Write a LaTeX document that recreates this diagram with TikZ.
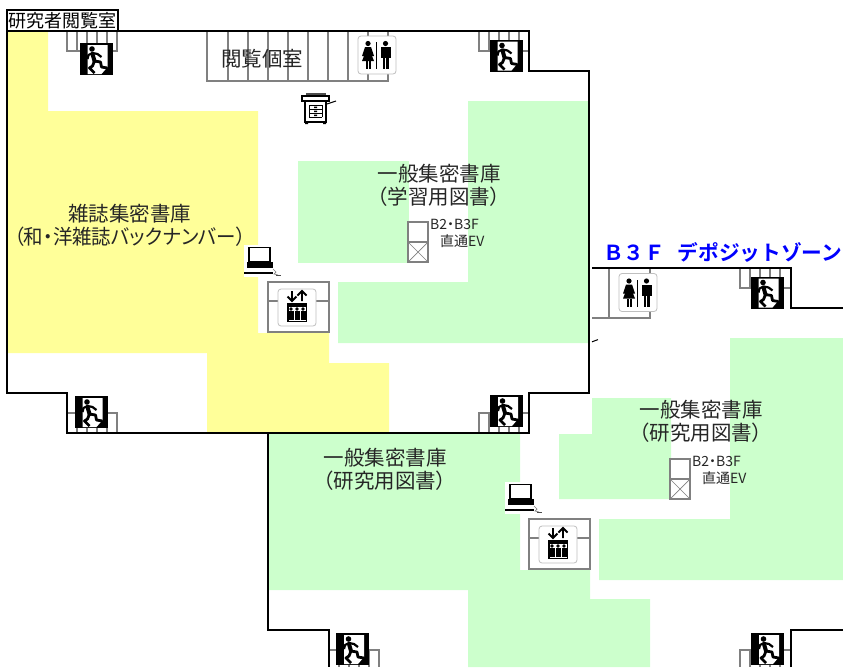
\documentclass[tikz,border=0pt]{standalone}
\usepackage{fontspec}
\setmainfont{Noto Sans CJK JP}
\newfontfamily\jp[RawFeature=+palt]{Noto Sans CJK JP}
\newfontfamily\jpb{Noto Sans CJK JP Bold}
\definecolor{yel}{HTML}{FFFF99}
\definecolor{grn}{HTML}{CCFFCC}
\definecolor{gry}{HTML}{808080}
\tikzset{
  x=1pt,y=-1pt,
  wall/.style={draw=black,line width=2.4pt,line join=miter},
  part/.style={draw=gry,line width=2pt},
  big/.style={font=\jp\fontsize{20.5}{24}\selectfont,align=center,inner sep=0pt,text=black!85},
  small/.style={font=\jp\fontsize{14}{16}\selectfont,inner sep=0pt,anchor=west,text=black!85},
  exitsign/.pic={
    \fill[black] (0,0) rectangle (33,32);
    \fill[white] (8,2) -- (28,2) -- (28,24) -- (22,31) -- (8,31) -- cycle;
    \fill[black] (12.5,6) circle (2.8);
    \draw[black,line width=4pt,line cap=round] (13,11) -- (15,18);
    \draw[black,line width=2.2pt,line join=round] (13,10) -- (18,11) -- (22,14);
    \draw[black,line width=2.2pt,line join=round] (13,10) -- (9,12) -- (8,16);
    \draw[black,line width=2.8pt,line join=round] (15,18) -- (21,19) -- (22,24) -- (28,25);
    \draw[black,line width=2.8pt,line join=round] (15,18) -- (13,23) -- (10,25) -- (15,30);
  },
  wcsign/.pic={
    \draw[draw=black!25,fill=white,line width=.8pt,rounded corners=3pt] (0,0) rectangle (38,38);
    \fill[black] (10,7.5) circle (2.6);
    \fill[black] (7,11) -- (13,11) -- (16,20) -- (14,20) -- (16,25) -- (4,25) -- (6,20) -- (4,20) -- cycle;
    \fill[black] (7.5,25) rectangle (9.5,33);
    \fill[black] (10.5,25) rectangle (12.5,33);
    \fill[black] (18,6) rectangle (19.4,33);
    \fill[black] (27.5,7.5) circle (2.6);
    \fill[black] (22.5,11) rectangle (33,22);
    \fill[black] (24.5,22) rectangle (27.2,33);
    \fill[black] (27.8,22) rectangle (31,33);
  },
  liftsign/.pic={
    \draw[draw=black!25,fill=white,line width=.8pt,rounded corners=3pt] (0,0) rectangle (38,37);
    \draw[black,line width=1.8pt] (14,2) -- (14,12) (9.5,7.5) -- (14,12) -- (18.5,7.5);
    \draw[black,line width=1.8pt] (24,12) -- (24,2) (19.5,6.5) -- (24,2) -- (28.5,6.5);
    \fill[black] (9,14) rectangle (29,33);
    \fill[white] (10.5,18) rectangle (27.5,31.5);
    \foreach \px in {13,19,25}{
      \fill[black] (\px,20) circle (1.8);
      \fill[black] (\px-2.5,22) rectangle (\px+2.5,30.5);
    }
  },
  pcsign/.pic={
    \fill[white] (0,0) rectangle (36,32);
    \draw[black,line width=1.6pt,fill=white] (5,2.5) rectangle (26,17);
    \fill[black] (3,17) rectangle (29,23);
    \draw[black,line width=1.2pt] (0,28) -- (29,28);
    \draw[black!50,line width=.7pt] (29,24) -- (32,27) -- (30,29) -- (34,30);
    \fill[black!70] (32,29.5) rectangle (37,31);
  },
  copiersign/.pic={
    \fill[black!70] (4,0) rectangle (24,3);
    \draw[black,line width=1.4pt,fill=white] (0,3) -- (27,3) -- (27,8) -- (0,8) -- cycle;
    \draw[black,line width=1.6pt,fill=white] (3,8) rectangle (24,29);
    \draw[black,line width=1pt] (7,12) -- (20,12) (7,16) -- (20,16) (7,20) -- (20,20) (7,24) -- (20,24);
    \draw[black,line width=1pt] (7,12) -- (7,24) (20,12) -- (20,24);
    \fill[black] (12,13.5) rectangle (15,15) (12,17.5) rectangle (15,19) (12,21.5) rectangle (15,23);
    \fill[black] (3,29) rectangle (6,31) (21,29) rectangle (24,31);
    \draw[black,line width=1pt] (25,11) -- (34,8);
  },
}
\begin{document}
\begin{tikzpicture}
\useasboundingbox (0,0) rectangle (843,667);
\clip (0,0) rectangle (843,667);
% floor areas
\fill[yel] (8,31) -- (48,31) -- (48,111) -- (258,111) -- (258,333) -- (329,333) -- (329,363) -- (389,363) -- (389,433) -- (207,433) -- (207,353) -- (8,353) -- cycle;
\fill[grn] (298,161) rectangle (409,263);
\fill[grn] (468,101) -- (589,101) -- (589,343) -- (338,343) -- (338,282) -- (468,282) -- cycle;
\fill[grn] (592,398) -- (671,398) -- (671,499) -- (559,499) -- (559,434) -- (592,434) -- cycle;
\fill[grn] (730,338) -- (843,338) -- (843,580) -- (599,580) -- (599,519) -- (730,519) -- cycle;
\fill[grn] (268,433) -- (520,433) -- (520,570) -- (590,570) -- (590,599) -- (650,599) -- (650,667) -- (468,667) -- (468,590) -- (268,590) -- cycle;
% stairs and partitions
\draw[part] (67,31) -- (67,51) -- (117,51) -- (117,31) (77,31) -- (77,51) (87,31) -- (87,51) (97,31) -- (97,51) (107,31) -- (107,51);
\draw[part] (207,31) -- (207,81) -- (388,81) -- (388,31);
\foreach \vx in {228,248,268,288,308,328,348,368} \draw[part] (\vx,31) -- (\vx,81);
\draw[part] (479,31) -- (479,51) -- (529,51);
\foreach \vx in {489,499,509,519} \draw[part] (\vx,31) -- (\vx,51);
\draw[part] (740,268) -- (740,288) -- (791,288);
\foreach \vx in {750,760,770,780} \draw[part] (\vx,268) -- (\vx,288);
\draw[part] (592,318) -- (650,318) -- (650,268) (609,268) -- (609,318);
\draw[part] (67,413) -- (117,413) -- (117,433);
\foreach \vx in {77,87,97,107} \draw[part] (\vx,413) -- (\vx,433);
\draw[part] (479,433) -- (479,413) -- (529,413);
\foreach \vx in {489,499,509,519} \draw[part] (\vx,413) -- (\vx,433);
\draw[part] (329,650) -- (379,650) -- (379,667);
\foreach \vx in {339,349,359,369} \draw[part] (\vx,650) -- (\vx,667);
\draw[part] (791,650) -- (740,650) -- (740,667);
\foreach \vx in {750,760,770,780} \draw[part] (\vx,650) -- (\vx,667);
% lifts
\draw[part,fill=white] (268,282) rectangle (329,332);
\draw[part] (268,301) -- (278,301) (316,301) -- (329,301);
\draw[part,fill=white] (529,519) rectangle (590,569);
\draw[part] (529,538) -- (539,538) (577,538) -- (590,538);
\draw[part,fill=white] (408,222) rectangle (428,262);
\draw[part] (408,242) -- (428,242);
\draw[gry,line width=.7pt] (408,242) -- (428,262) (428,242) -- (408,262);
\draw[part,fill=white] (670,459) rectangle (690,499);
\draw[part] (670,479) -- (690,479);
\draw[gry,line width=.7pt] (670,479) -- (690,499) (690,479) -- (670,499);
% walls
\draw[wall] (7,31) -- (529,31) -- (529,71) -- (589,71) -- (589,393) -- (529,393) -- (529,433) -- (67,433) -- (67,393) -- (7,393) -- cycle;
\draw[wall] (268,433) -- (268,630) -- (329,630) -- (329,667);
\draw[wall] (791,667) -- (791,630) -- (843,630);
\draw[wall] (592,268) -- (791,268) -- (791,308) -- (843,308);
\draw[black,line width=1pt] (592,341.8) -- (598,339.6);
\node[draw=black,line width=1.6pt,fill=white,inner sep=0pt,minimum width=111pt,minimum height=21pt,font=\fontsize{18}{20}\selectfont] (lbl) at (62.5,20.5) {\hspace{1pt}研究者閲覧室};
% icons
\pic at (79.5,43) {exitsign};
\pic at (489.5,39.5) {exitsign};
\pic at (750.5,276.5) {exitsign};
\pic at (74.5,396) {exitsign};
\pic at (490,395) {exitsign};
\pic at (336,633) {exitsign};
\pic at (751,633) {exitsign};
\pic at (358,36) {wcsign};
\pic at (619,273.5) {wcsign};
\pic at (278,289) {liftsign};
\pic at (539,526) {liftsign};
\pic at (244,245) {pcsign};
\pic at (505,482) {pcsign};
\pic at (302,93) {copiersign};
% texts
\node[big] (room) at (262,59) {閲覧個室};
\node[big] (mag) at (130,225) {雑誌集密書庫\\[-1pt]\scalebox{0.95}[1]{（和・洋雑誌バックナンバー）}};
\node[big] (gen1) at (439,185) {一般集密書庫\\[-1pt]（学習用図書）};
\node[big] (gen2) at (701,421) {一般集密書庫\\[-1pt]（研究用図書）};
\node[big] (gen3) at (385,469) {一般集密書庫\\[-1pt]（研究用図書）};
\node[small] (ev1a) at (430,224) {B2・B3F};
\node[small] (ev1b) at (440,241) {直通EV};
\node[small] (ev2a) at (692,461) {B2・B3F};
\node[small] (ev2b) at (702,478) {直通EV};
\node[inner sep=0pt,anchor=west,text=blue,font=\jpb\fontsize{20.7}{24}\selectfont] (title) at (603,252) {Ｂ３Ｆ\hspace{0.6em}デポジットゾーン};
\end{tikzpicture}
\end{document}
